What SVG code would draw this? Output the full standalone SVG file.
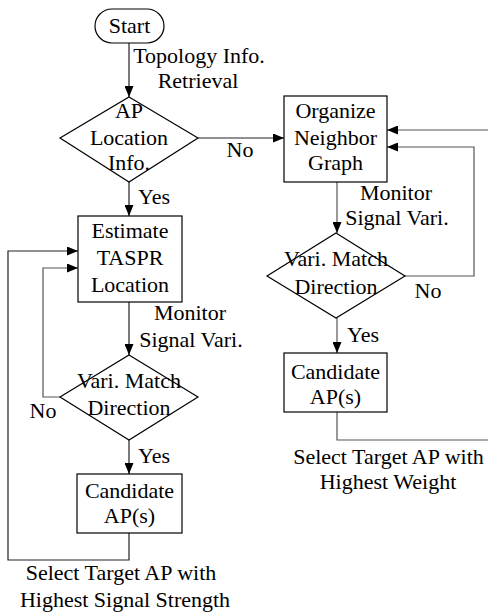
<svg xmlns="http://www.w3.org/2000/svg" width="488" height="614" viewBox="0 0 488 614">
<defs>
<marker id="arr" markerWidth="11" markerHeight="9" refX="11" refY="4.5" orient="auto" markerUnits="userSpaceOnUse">
<path d="M0,0 L11,4.5 L0,9 z" fill="#000"/>
</marker>
<style>
text{font-family:"Liberation Serif","Times New Roman",serif;font-size:22px;fill:#000}
.c{text-anchor:middle}
.n{fill:#fff;stroke:#000;stroke-width:1.2}
.e{fill:none;stroke:#222;stroke-width:1.2}
.g{fill:none;stroke:#555;stroke-width:1.2}
.a{marker-end:url(#arr)}
</style>
</defs>
<rect width="488" height="614" fill="#fff"/>
<g id="connectors">
<path class="e a" d="M129,43 V97"/>
<path class="e a" d="M129,182 V216"/>
<path class="e a" d="M198,138 H284"/>
<path class="e a" d="M129,302 V355"/>
<path class="g a" d="M60,397 H43 V268 H78"/>
<path class="e a" d="M129,440 V474"/>
<path class="e a" d="M129,533 V560 H8 V251 H78"/>
<path class="g a" d="M337,182 V233"/>
<path class="g a" d="M405,276 H474 V147 H387"/>
<path class="g a" d="M488,130 H387"/>
<path class="g a" d="M337,318 V353"/>
<path class="g" d="M337,412 V440 H488"/>
</g>
<g id="start">
<rect class="n" x="95" y="9" width="69" height="34" rx="17"/>
<text class="c" x="129.5" y="33">Start</text>
</g>
<g id="label-topology">
<text class="c" x="199" y="63">Topology Info.</text>
<text class="c" x="198" y="88">Retrieval</text>
</g>
<g id="ap-location">
<polygon class="n" points="129,97 198,138 129,182 60,138"/>
<text class="c" x="129" y="118">AP</text>
<text class="c" x="129" y="145">Location</text>
<text class="c" x="129" y="170">Info.</text>
</g>
<g id="labels-d1">
<text x="138" y="204">Yes</text>
<text class="c" x="240" y="157">No</text>
</g>
<g id="organize">
<rect class="n" x="284" y="96" width="103" height="86"/>
<text class="c" x="335.5" y="118">Organize</text>
<text class="c" x="335.5" y="145">Neighbor</text>
<text class="c" x="335.5" y="170">Graph</text>
</g>
<g id="estimate">
<rect class="n" x="78" y="216" width="104" height="86"/>
<text class="c" x="130" y="238">Estimate</text>
<text class="c" x="130" y="265">TASPR</text>
<text class="c" x="130" y="292">Location</text>
</g>
<g id="label-monitor-left">
<text class="c" x="190" y="320">Monitor</text>
<text class="c" x="191" y="347">Signal Vari.</text>
</g>
<g id="match-left">
<polygon class="n" points="129,355 198,397 129,440 60,397"/>
<text class="c" x="129" y="388">Vari. Match</text>
<text class="c" x="129" y="415">Direction</text>
</g>
<g id="labels-d3">
<text class="c" x="43" y="418">No</text>
<text x="138" y="463">Yes</text>
</g>
<g id="candidate-left">
<rect class="n" x="77" y="474" width="105" height="59"/>
<text class="c" x="129.5" y="498">Candidate</text>
<text class="c" x="129.5" y="523">AP(s)</text>
</g>
<g id="label-select-left">
<text class="c" x="121" y="580">Select Target AP with</text>
<text class="c" x="125" y="607">Highest Signal Strength</text>
</g>
<g id="label-monitor-right">
<text class="c" x="396" y="200">Monitor</text>
<text class="c" x="397" y="225">Signal Vari.</text>
</g>
<g id="match-right">
<polygon class="n" points="336,233 405,276 336,318 267,276"/>
<text class="c" x="336" y="266">Vari. Match</text>
<text class="c" x="336" y="294">Direction</text>
</g>
<g id="labels-d2">
<text class="c" x="428" y="298">No</text>
<text x="347" y="342">Yes</text>
</g>
<g id="candidate-right">
<rect class="n" x="284" y="353" width="103" height="59"/>
<text class="c" x="335.5" y="379">Candidate</text>
<text class="c" x="335.5" y="404">AP(s)</text>
</g>
<g id="label-select-right">
<text class="c" x="388.5" y="464">Select Target AP with</text>
<text class="c" x="388" y="489">Highest Weight</text>
</g>
</svg>
